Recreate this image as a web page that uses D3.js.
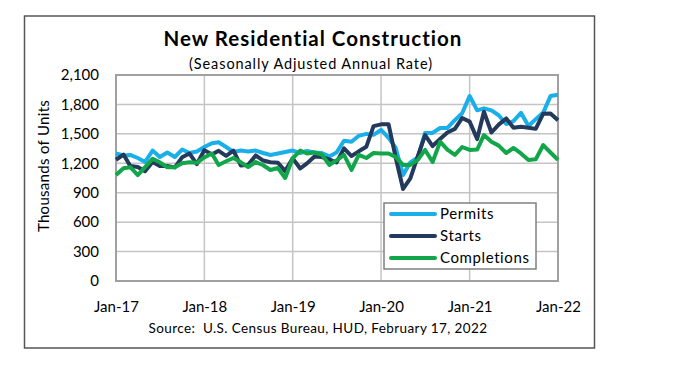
<!DOCTYPE html>
<meta charset="utf-8">
<style>
    body { margin: 0; background: #fff; }
    text { font-family: Lato, "Open Sans", sans-serif; fill: #000; }
    .grid line { stroke: #c4c4c4; stroke-width: 1.5; }
    .series { fill: none; stroke-width: 4; stroke-linejoin: round; }
</style>
<body>
<script src="https://d3js.org/d3.v7.min.js"></script>
<script>
    // Monthly values, thousands of units, Jan-17 .. Jan-22
    var permits = [
        1300, 1280, 1285, 1254, 1213, 1330, 1264, 1310, 1264, 1340, 1305, 1320,
        1366, 1405, 1415, 1366, 1315, 1330, 1320, 1330, 1305, 1285, 1300, 1315,
        1330, 1305, 1325, 1310, 1305, 1270, 1310, 1430, 1420, 1480, 1500, 1490,
        1540, 1460, 1360, 1080, 1210, 1260, 1510, 1510, 1560, 1560, 1640, 1710,
        1886, 1740, 1760, 1740, 1690, 1600, 1630, 1715, 1580, 1650, 1717, 1885,
        1899
    ];
    var starts = [
        1236, 1289, 1172, 1162, 1118, 1213, 1172, 1172, 1158, 1261, 1299, 1192,
        1334, 1290, 1327, 1276, 1329, 1177, 1184, 1280, 1228, 1211, 1206, 1120,
        1250, 1147, 1199, 1270, 1264, 1240, 1208, 1352, 1274, 1322, 1368, 1579,
        1597, 1599, 1262, 938, 1046, 1273, 1487, 1376, 1448, 1514, 1551, 1661,
        1625, 1447, 1725, 1514, 1594, 1657, 1562, 1573, 1563, 1551, 1706, 1708,
        1638
    ];
    var completions = [
        1080, 1150, 1160, 1080, 1160, 1245, 1210, 1160, 1160, 1200, 1210, 1205,
        1260, 1300, 1183, 1220, 1254, 1210, 1162, 1213, 1180, 1132, 1152, 1050,
        1250, 1330, 1300, 1310, 1290, 1183, 1230, 1285, 1132, 1285, 1254, 1305,
        1300, 1300, 1265, 1183, 1183, 1234, 1336, 1213, 1420, 1340, 1285, 1366,
        1336, 1340, 1488, 1420, 1380, 1305, 1356, 1300, 1234, 1240, 1386, 1310,
        1234
    ];
    var seriesNames = ["Permits", "Starts", "Completions"];
    var seriesColors = ["#1aafe9", "#243a5c", "#12a64a"];
    var yTicks = [0, 300, 600, 900, 1200, 1500, 1800, 2100];
    var xTickYears = [2017, 2018, 2019, 2020, 2021, 2022];

    var width = 673, height = 388;
    var plot = { left: 116, right: 558, top: 75, bottom: 281 };

    var svg = d3.select("body").append("svg")
        .attr("width", width)
        .attr("height", height);

    // outer frame
    svg.append("rect")
        .attr("x", 24.5).attr("y", 16)
        .attr("width", 570).attr("height", 332)
        .attr("fill", "#fff")
        .attr("stroke", "#555")
        .attr("stroke-width", 1.5);

    var months = d3.range(permits.length).map(function (i) {
        return new Date(2017, i, 1);
    });

    var x = d3.scaleTime()
        .domain([new Date(2017, 0, 1), new Date(2022, 0, 1)])
        .range([plot.left, plot.right]);
    var y = d3.scaleLinear()
        .domain([0, 2100])
        .range([plot.bottom, plot.top]);

    var xTicks = xTickYears.map(function (yr) { return new Date(yr, 0, 1); });

    // gridlines
    var grid = svg.append("g").attr("class", "grid");
    grid.selectAll(".h").data(yTicks).enter().append("line")
        .attr("x1", plot.left).attr("x2", plot.right)
        .attr("y1", d => y(d)).attr("y2", d => y(d));
    grid.selectAll(".v").data(xTicks).enter().append("line")
        .attr("x1", d => x(d)).attr("x2", d => x(d))
        .attr("y1", plot.top).attr("y2", plot.bottom);

    // plot border
    svg.append("rect")
        .attr("x", plot.left).attr("y", plot.top)
        .attr("width", plot.right - plot.left)
        .attr("height", plot.bottom - plot.top)
        .attr("fill", "none")
        .attr("stroke", "#a0a0a0")
        .attr("stroke-width", 2);

    // y axis labels
    var yAxis = svg.append("g")
        .attr("transform", "translate(" + (plot.left - 10) + ",0)")
        .call(d3.axisLeft(y).tickValues(yTicks).tickSize(0).tickPadding(7)
            .tickFormat(d3.format(",")));
    yAxis.select(".domain").remove();
    yAxis.selectAll("text").style("font-size", "15px").style("font-family", "Lato");

    // x axis labels
    var xAxis = svg.append("g")
        .attr("transform", "translate(0," + (plot.bottom + 17) + ")")
        .call(d3.axisBottom(x).tickValues(xTicks).tickSize(0)
            .tickFormat(d3.timeFormat("%b-%y")));
    xAxis.select(".domain").remove();
    xAxis.selectAll("text").style("font-size", "15px").style("font-family", "Lato");

    // series lines
    var line = d3.line()
        .x((d, i) => x(months[i]))
        .y(d => y(d));
    [permits, starts, completions].forEach(function (vals, k) {
        svg.append("path")
            .datum(vals)
            .attr("class", "series")
            .attr("stroke", seriesColors[k])
            .attr("d", line);
    });

    // titles
    svg.append("text")
        .attr("x", 313).attr("y", 46)
        .attr("text-anchor", "middle")
        .style("font-size", "20.5px").style("font-weight", "bold")
        .style("letter-spacing", "1px")
        .text("New Residential Construction");
    svg.append("text")
        .attr("x", 311).attr("y", 69)
        .attr("text-anchor", "middle")
        .style("font-size", "14.5px")
        .style("letter-spacing", "0.9px")
        .text("(Seasonally Adjusted Annual Rate)");
    svg.append("text")
        .attr("transform", "translate(49,166) rotate(-90)")
        .attr("text-anchor", "middle")
        .style("font-size", "15px")
        .style("letter-spacing", "0.3px")
        .text("Thousands of Units");
    svg.append("text")
        .attr("x", 318).attr("y", 333)
        .attr("text-anchor", "middle")
        .style("font-size", "13.5px")
        .style("letter-spacing", "0.4px")
        .style("white-space", "pre")
        .text("Source:  U.S. Census Bureau, HUD, February 17, 2022");

    // legend
    var legend = svg.append("g").attr("transform", "translate(384,203)");
    legend.append("rect")
        .attr("width", 152).attr("height", 66)
        .attr("fill", "#fff")
        .attr("stroke", "#808080")
        .attr("stroke-width", 1.5);
    var item = legend.selectAll(".item").data(seriesNames).enter().append("g")
        .attr("transform", (d, i) => "translate(0," + (11 + i * 22) + ")");
    item.append("line")
        .attr("x1", 7).attr("x2", 51)
        .attr("stroke", (d, i) => seriesColors[i])
        .attr("stroke-width", 4)
        .attr("stroke-linecap", "round");
    item.append("text")
        .attr("x", 56).attr("dy", "0.35em")
        .style("font-size", "15px")
        .style("letter-spacing", "0.6px")
        .text(d => d);
</script>
</body>
